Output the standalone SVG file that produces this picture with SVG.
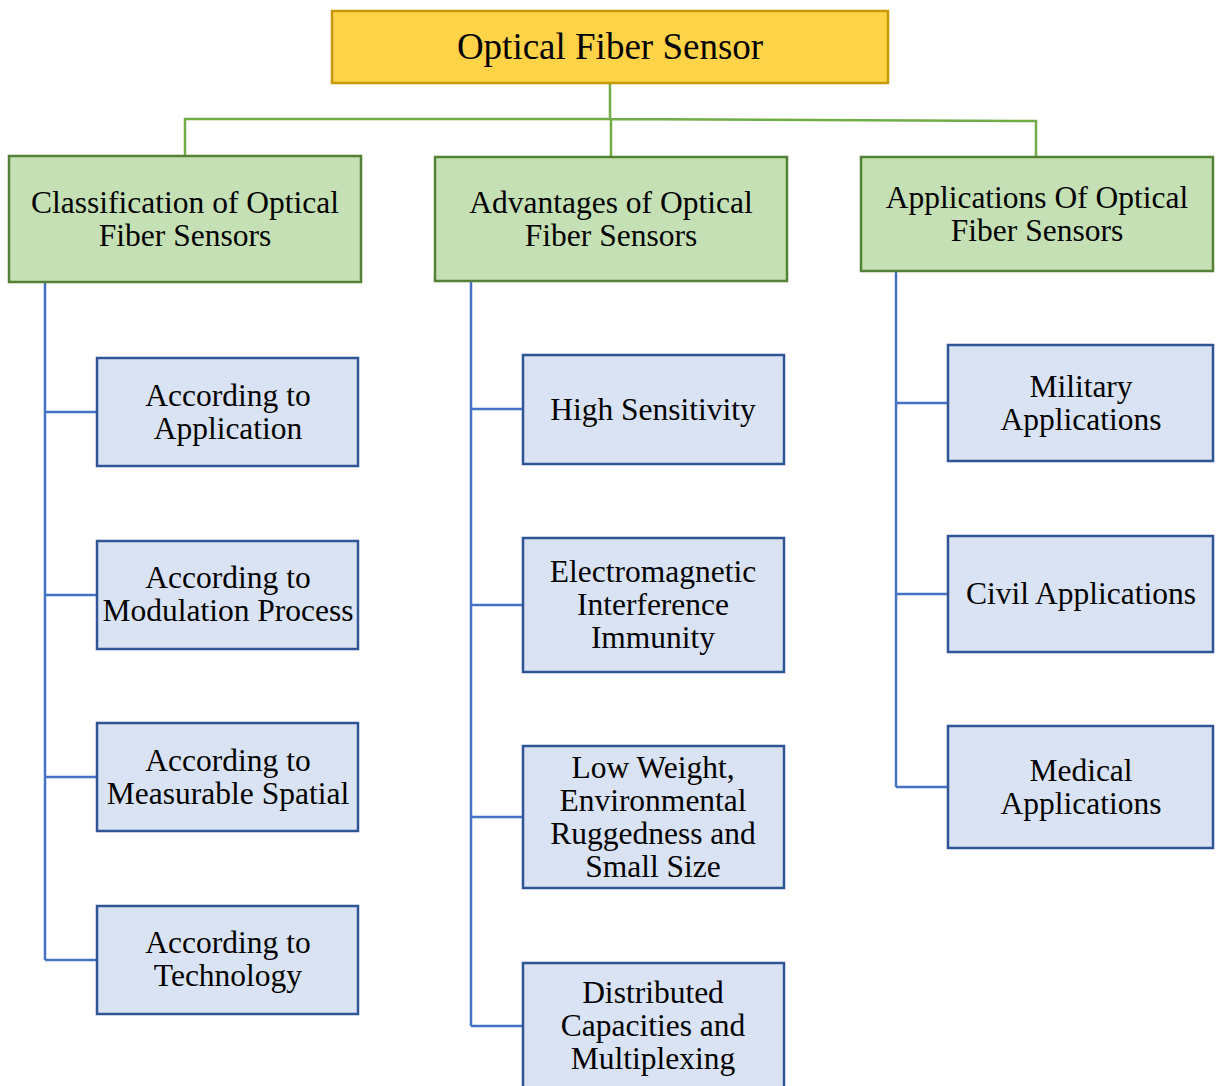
<svg xmlns="http://www.w3.org/2000/svg" width="1216" height="1086" viewBox="0 0 1216 1086">
<style>
text{fill:#000;text-anchor:middle}
.root rect{fill:#FFD347;stroke:#C49A00;stroke-width:2.5}
.l1 rect{fill:#C5E0B4;stroke:#538135;stroke-width:2.5}
.leaf rect{fill:#DAE3F3;stroke:#2F5597;stroke-width:2.5}
.root text{font-size:37px}
.l1 text{font-size:31.5px}
.leaf text{font-size:31.5px}
.g{fill:none;stroke:#70AD47;stroke-width:2.5}
.b{fill:none;stroke:#4472C4;stroke-width:2.5}
</style>
<rect width="1216" height="1086" fill="#fff"/>
<g font-family="Liberation Serif, Times New Roman, serif">
<g id="connectors">
<path class="g" d="M610,83 V119 M185,156 V119 H610 L1036,121 V157 M611,119 V157"/>
<path class="b" d="M45,282 V960 M45,412 H97 M45,595 H97 M45,777 H97 M45,960 H97"/>
<path class="b" d="M471,281 V1026 M471,409 H523 M471,605 H523 M471,817 H523 M471,1026 H523"/>
<path class="b" d="M896,271 V787 M896,403 H948 M896,594 H948 M896,787 H948"/>
</g>
<g id="root" class="root"><rect x="332" y="11" width="556" height="72"/><text x="610" y="59">Optical Fiber Sensor</text></g>
<g id="classification" class="l1"><rect x="9" y="156" width="352" height="126"/><text x="185" y="213">Classification of Optical</text><text x="185" y="246">Fiber Sensors</text></g>
<g id="advantages" class="l1"><rect x="435" y="157" width="352" height="124"/><text x="611" y="213">Advantages of Optical</text><text x="611" y="246">Fiber Sensors</text></g>
<g id="applications" class="l1"><rect x="861" y="157" width="352" height="114"/><text x="1037" y="208">Applications Of Optical</text><text x="1037" y="241">Fiber Sensors</text></g>
<g id="c1" class="leaf"><rect x="97" y="358" width="261" height="108"/><text x="228" y="406">According to</text><text x="228" y="439">Application</text></g>
<g id="c2" class="leaf"><rect x="97" y="541" width="261" height="108"/><text x="228" y="588">According to</text><text x="228" y="621">Modulation Process</text></g>
<g id="c3" class="leaf"><rect x="97" y="723" width="261" height="108"/><text x="228" y="771">According to</text><text x="228" y="804">Measurable Spatial</text></g>
<g id="c4" class="leaf"><rect x="97" y="906" width="261" height="108"/><text x="228" y="953">According to</text><text x="228" y="986">Technology</text></g>
<g id="a1" class="leaf"><rect x="523" y="355" width="261" height="109"/><text x="653" y="420">High Sensitivity</text></g>
<g id="a2" class="leaf"><rect x="523" y="538" width="261" height="134"/><text x="653" y="582">Electromagnetic</text><text x="653" y="615">Interference</text><text x="653" y="648">Immunity</text></g>
<g id="a3" class="leaf"><rect x="523" y="746" width="261" height="142"/><text x="653" y="778">Low Weight,</text><text x="653" y="811">Environmental</text><text x="653" y="844">Ruggedness and</text><text x="653" y="877">Small Size</text></g>
<g id="a4" class="leaf"><rect x="523" y="963" width="261" height="130"/><text x="653" y="1003">Distributed</text><text x="653" y="1036">Capacities and</text><text x="653" y="1069">Multiplexing</text></g>
<g id="p1" class="leaf"><rect x="948" y="345" width="265" height="116"/><text x="1081" y="397">Military</text><text x="1081" y="430">Applications</text></g>
<g id="p2" class="leaf"><rect x="948" y="536" width="265" height="116"/><text x="1081" y="604">Civil Applications</text></g>
<g id="p3" class="leaf"><rect x="948" y="726" width="265" height="122"/><text x="1081" y="781">Medical</text><text x="1081" y="814">Applications</text></g>
</g>
</svg>
